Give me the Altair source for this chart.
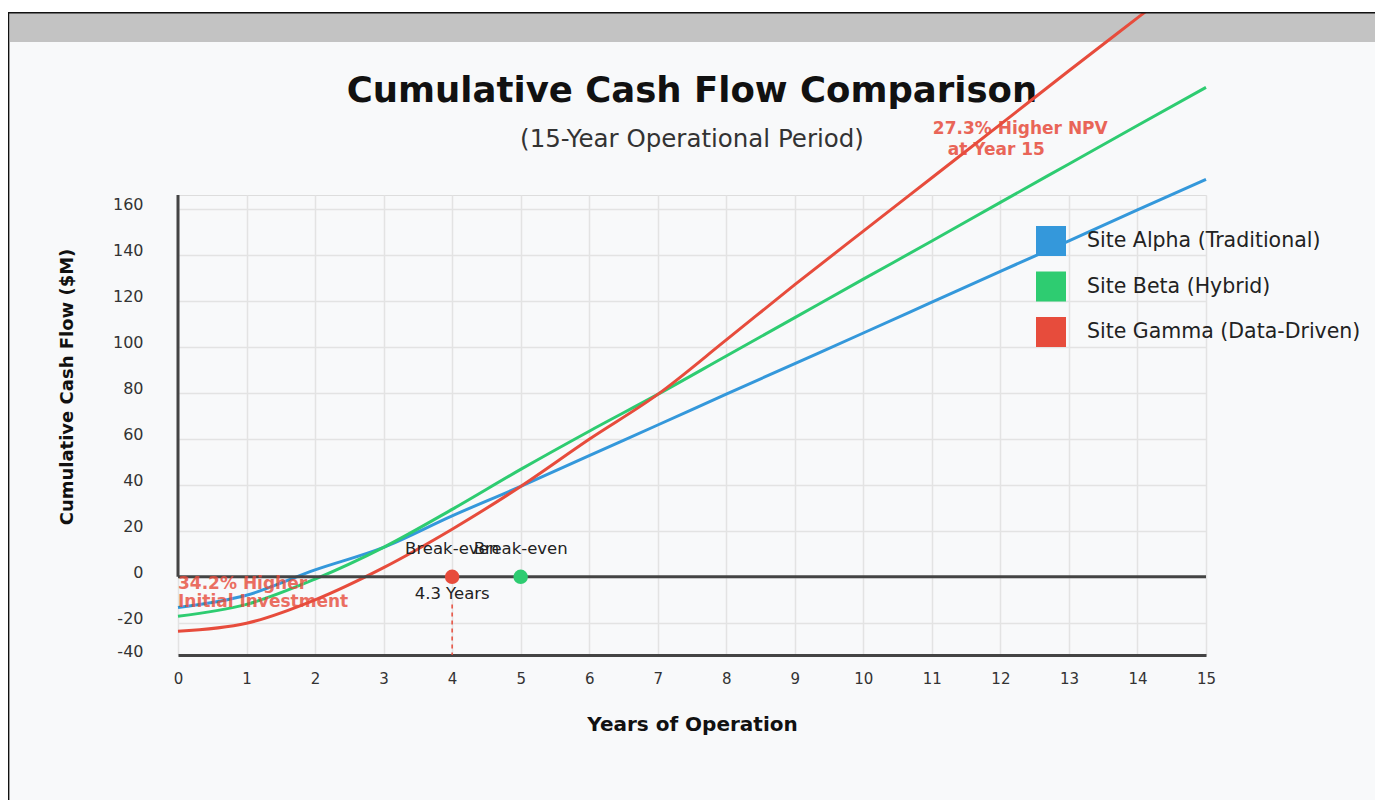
import altair as alt
import pandas as pd

# ---------------- data ----------------
years = list(range(16))
alpha = [-13.3, -8.0, 3.0, 12.8, 26.5, 39.3, 52.7, 66.0, 79.4, 92.7, 106.0, 119.4, 132.8, 146.1, 159.5, 172.8]
beta = [-17.2, -12.0, -1.0, 12.8, 29.3, 46.7, 63.3, 79.3, 96.0, 112.7, 129.4, 146.0, 162.8, 179.5, 196.2, 212.8]
gamma = [-23.7, -20.2, -10.0, 4.0, 20.7, 39.3, 59.8, 79.3, 103.0, 127.0, 150.3, 173.5, 196.7, 220.0, 243.0, 266.0]

series_names = ["Site Alpha (Traditional)", "Site Beta (Hybrid)", "Site Gamma (Data-Driven)"]
series_colors = ["#3498db", "#2ecc71", "#e74c3c"]

x_ticks = list(range(16))
y_ticks = [-34, -20, 0, 20, 40, 60, 80, 100, 120, 140, 160]
y_domain = [-34, 166]
x_domain = [0, 15]

# break-even markers
be_years = [4, 5]
be_series = ["Site Gamma (Data-Driven)", "Site Beta (Hybrid)"]
be_label = ["Break-even", "Break-even"]
be_label_y = [9.8, 9.8]
years_label = ["4.3 Years"]
years_label_x = [4]
years_label_y = [-9.8]
dash_x = [4]
dash_y = [-12]
dash_y2 = [-34]

# annotations
npv_text = ["27.3% Higher NPV", "at Year 15"]
npv_x = [12.29, 11.94]
npv_y = [192.4, 183.3]
inv_text = ["34.2% Higher", "Initial Investment"]
inv_x = [0, 0]
inv_y = [-5.4, -13.3]

FONT = "DejaVu Sans"

rows = []
for name, vals in zip(series_names, [alpha, beta, gamma]):
    for yr, v in zip(years, vals):
        rows.append({"year": yr, "value": v, "series": name})
df = pd.DataFrame(rows)

color_scale = alt.Scale(domain=series_names, range=series_colors)
xs = alt.Scale(domain=x_domain, nice=False, zero=False)
ys = alt.Scale(domain=y_domain, nice=False, zero=False)

x_axis = alt.Axis(
    values=x_ticks, format="d", grid=True, gridColor="#e3e3e3", gridWidth=1.5,
    domainColor="#444444", domainWidth=3, ticks=False, labelAngle=0, labelFlush=False,
    labelFontSize=15, labelPadding=16, labelColor="#333333", labelFont=FONT,
    title="Years of Operation", titleFontSize=20, titleFontWeight="bold", titleFont=FONT,
    titleColor="#111111", titleY=75, titleBaseline="alphabetic")
y_axis = alt.Axis(
    values=y_ticks, labelExpr="datum.value < -30 ? '-40' : toString(datum.value)",
    labelFlush=False, labelOffset=-4, grid=True, gridColor="#e3e3e3", gridWidth=1.5,
    domain=False, ticks=False, labelPadding=35, labelFontSize=16, labelColor="#333333",
    labelFont=FONT, title="Cumulative Cash Flow ($M)", titleFontSize=18,
    titleFontWeight="bold", titleFont=FONT, titleColor="#111111", titleAngle=270,
    titleX=-106, titleY=191.5, titleBaseline="alphabetic", titleAlign="center")


def X(field):
    return alt.X(field, scale=xs, axis=x_axis, title="Years of Operation")


def Y(field):
    return alt.Y(field, scale=ys, axis=y_axis, title="Cumulative Cash Flow ($M)")


one = pd.DataFrame({"k": [0]})

# ---------------- decorations (page frame) ----------------
grey_band = alt.Chart(one).mark_rect(color="#c3c3c3").encode(
    x=alt.value(-170), x2=alt.value(1210), y=alt.value(-182), y2=alt.value(-153)
)
grey_left = alt.Chart(one).mark_rect(color="#c3c3c3").encode(
    x=alt.value(-170), x2=alt.value(-168), y=alt.value(-182), y2=alt.value(620)
)
top_white = alt.Chart(one).mark_rect(color="#ffffff").encode(
    x=alt.value(-180), x2=alt.value(1210), y=alt.value(-190), y2=alt.value(-183)
)
top_black = alt.Chart(one).mark_rect(color="#111111").encode(
    x=alt.value(-170), x2=alt.value(1210), y=alt.value(-183), y2=alt.value(-181.5)
)
left_black = alt.Chart(one).mark_rect(color="#111111").encode(
    x=alt.value(-170), x2=alt.value(-168.8), y=alt.value(-183), y2=alt.value(620)
)
title = alt.Chart(one).mark_text(
    text="Cumulative Cash Flow Comparison", font=FONT, fontSize=35.5, fontWeight="bold",
    color="#111111", align="center", baseline="alphabetic"
).encode(x=alt.value(514), y=alt.value(-93))
subtitle = alt.Chart(one).mark_text(
    text="(15-Year Operational Period)", font=FONT, fontSize=24.5, color="#333333",
    align="center", baseline="alphabetic"
).encode(x=alt.value(514), y=alt.value(-48))

# ---------------- main lines with axes ----------------
lines = alt.Chart(df).mark_line(strokeWidth=3, interpolate="monotone", clip=False).encode(
    x=X("year:Q"),
    y=Y("value:Q"),
    stroke=alt.Stroke("series:N", scale=color_scale, legend=None),
    detail="series:N",
)

axis_df = pd.DataFrame({"year": [x_domain[0]], "value": [0], "value2": [y_domain[1]]})
y_line = alt.Chart(axis_df).mark_rule(color="#444444", strokeWidth=3).encode(
    x=X("year:Q"), y=Y("value:Q"), y2="value2:Q")
zero_df = pd.DataFrame({"year": [x_domain[0]], "year2": [x_domain[1]], "value": [0]})
zero_line = alt.Chart(zero_df).mark_rule(color="#444444", strokeWidth=3).encode(
    x=X("year:Q"), x2="year2:Q", y=Y("value:Q"))

dash_df = pd.DataFrame({"year": dash_x, "value": dash_y, "value2": dash_y2})
dash = alt.Chart(dash_df).mark_rule(color="#e74c3c", strokeWidth=1.5, strokeDash=[4, 4]).encode(
    x=X("year:Q"), y=Y("value:Q"), y2="value2:Q")

be_df = pd.DataFrame({"year": be_years, "value": [0, 0], "series": be_series,
                      "label": be_label, "ly": be_label_y})
dots = alt.Chart(be_df).mark_circle(size=210, opacity=1).encode(
    x=X("year:Q"), y=Y("value:Q"),
    fill=alt.Fill("series:N", scale=color_scale, legend=None))
be_text = alt.Chart(be_df).mark_text(font=FONT, fontSize=16.5, color="#222222",
                                     align="center", baseline="alphabetic").encode(
    x=X("year:Q"), y=Y("ly:Q"), text="label:N")
yl_df = pd.DataFrame({"year": years_label_x, "value": years_label_y, "t": years_label})
years_text = alt.Chart(yl_df).mark_text(font=FONT, fontSize=16.5, color="#222222",
                                        align="center", baseline="alphabetic").encode(
    x=X("year:Q"), y=Y("value:Q"), text="t:N")

npv_df = pd.DataFrame({"year": npv_x, "value": npv_y, "t": npv_text})
npv = alt.Chart(npv_df).mark_text(font=FONT, fontSize=17, fontWeight="bold", color="#e74c3c",
                                  opacity=0.85, align="center", baseline="alphabetic").encode(
    x=X("year:Q"), y=Y("value:Q"), text="t:N")
inv_df = pd.DataFrame({"year": inv_x, "value": inv_y, "t": inv_text})
inv = alt.Chart(inv_df).mark_text(font=FONT, fontSize=17, fontWeight="bold", color="#e74c3c",
                                  opacity=0.8, align="left", baseline="alphabetic").encode(
    x=X("year:Q"), y=Y("value:Q"), text="t:N")

# legend (filled squares); its colour scale takes its domain from the legend rows
legend_df = pd.DataFrame({"site": series_names})
legend_layer = alt.Chart(legend_df).mark_square(size=900, opacity=1).encode(
    x=alt.value(-10000), y=alt.value(-10000),
    color=alt.Color("site:N", scale=alt.Scale(range=series_colors), sort=series_names,
                    legend=alt.Legend(
                        orient="none", legendX=858, legendY=31, title=None, symbolType="square",
                        symbolSize=900, symbolStrokeWidth=0, labelFontSize=20.5, labelFont=FONT,
                        labelColor="#222222", rowPadding=15.5, labelOffset=21, padding=0,
                        labelLimit=0, zindex=5))
)

chart = alt.layer(
    grey_band, grey_left, title, subtitle, lines, dash, y_line, zero_line, dots, be_text,
    years_text, npv, inv, legend_layer, top_white, top_black, left_black
).properties(
    width=1028, height=460,
    autosize=alt.AutoSizeParams(type="none"),
    padding={"left": 170, "top": 187, "right": 169, "bottom": 145},
    background="#f8f9fa",
).configure_view(stroke="transparent", strokeWidth=0).configure(font=FONT)

chart.save("out.html", embed_options={"renderer": "svg", "actions": False})
